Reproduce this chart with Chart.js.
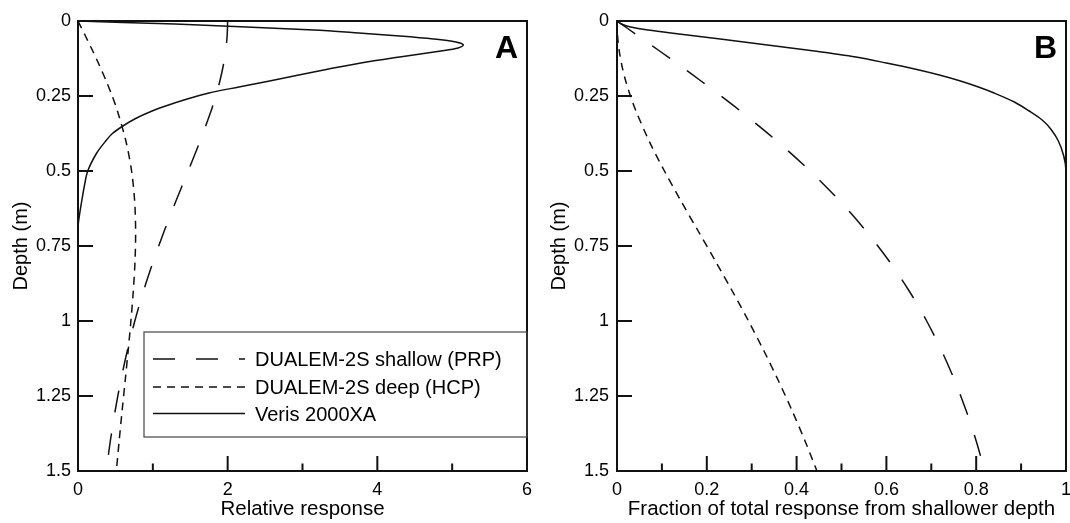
<!DOCTYPE html>
<html><head><meta charset="utf-8">
<script src="https://cdn.jsdelivr.net/npm/chart.js@4"></script>
<style>
html,body{margin:0;padding:0;background:#fff;overflow:hidden;width:1070px;height:523px;position:relative}
#ca{position:absolute;left:0;top:0}
#cb{position:absolute;left:540px;top:0}
</style></head><body>
<canvas id="ca" width="540" height="523"></canvas>
<canvas id="cb" width="539" height="523"></canvas>
<script>
// ---------- data ----------
const depthTicks = [0, 0.25, 0.5, 0.75, 1, 1.25, 1.5];
const depthTickLabels = ['0', '0.25', '0.5', '0.75', '1', '1.25', '1.5'];
const xMajorA = [0, 2, 4, 6];
const xMajorLabelsA = ['0', '2', '4', '6'];
const xMinorA = [1, 3, 5];
const xMajorB = [0, 0.2, 0.4, 0.6, 0.8, 1];
const xMajorLabelsB = ['0', '0.2', '0.4', '0.6', '0.8', '1'];
const xMinorB = [0.1, 0.3, 0.5, 0.7, 0.9];

const seriesNames = ['DUALEM-2S shallow (PRP)', 'DUALEM-2S deep (HCP)', 'Veris 2000XA'];

// depths (m) for the DUALEM curves
const depthsDualem = [0, 0.05, 0.1, 0.15, 0.2, 0.25, 0.3, 0.4, 0.5, 0.6, 0.7, 0.8, 0.9, 1.0, 1.1, 1.2, 1.3, 1.4, 1.5];
// Panel A: relative response
const prpResponse = [2.0, 1.993, 1.973, 1.94, 1.896, 1.841, 1.778, 1.632, 1.472, 1.309, 1.152, 1.007, 0.875, 0.759, 0.658, 0.571, 0.496, 0.432, 0.377];
const hcpResponse = [0, 0.0996, 0.197, 0.29, 0.377, 0.457, 0.527, 0.64, 0.716, 0.757, 0.77, 0.762, 0.739, 0.707, 0.67, 0.63, 0.589, 0.55, 0.512];
// Panel B: cumulative fraction from shallower depth
const prpFraction = [0, 0.0476, 0.0948, 0.1414, 0.1871, 0.2316, 0.2747, 0.356, 0.43, 0.4961, 0.5547, 0.606, 0.6508, 0.6897, 0.7233, 0.7526, 0.7779, 0.8, 0.819];
const hcpFraction = [0, 0.00125, 0.005, 0.0111, 0.0194, 0.0299, 0.0422, 0.0715, 0.1056, 0.1425, 0.1808, 0.2191, 0.2567, 0.2929, 0.3273, 0.3598, 0.3903, 0.4188, 0.4453];

// Veris 2000XA
const depthsVerisA = [0, 0.005, 0.01, 0.02, 0.03, 0.04, 0.05, 0.06, 0.07, 0.08, 0.09, 0.1, 0.12, 0.14, 0.16, 0.18, 0.2, 0.22, 0.24, 0.26, 0.28, 0.3, 0.325, 0.35, 0.375, 0.4, 0.44, 0.5, 0.55, 0.6, 0.65, 0.69, 1.5];
const verisResponse = [0, 0.6, 1.3, 2.25, 3.15, 3.75, 4.3, 4.75, 5.05, 5.15, 5.08, 4.85, 4.3, 3.78, 3.35, 2.95, 2.56, 2.15, 1.75, 1.46, 1.21, 0.99, 0.77, 0.6, 0.46, 0.37, 0.25, 0.13, 0.085, 0.05, 0.018, 0, 0];
const depthsVerisB = [0, 0.01, 0.02, 0.03, 0.04, 0.05, 0.06, 0.08, 0.1, 0.12, 0.14, 0.16, 0.18, 0.2, 0.22, 0.24, 0.27, 0.3, 0.33, 0.36, 0.4, 0.45, 0.5, 1.5];
const verisFraction = [0, 0.01, 0.03, 0.07, 0.12, 0.175, 0.23, 0.335, 0.44, 0.532, 0.6, 0.663, 0.718, 0.765, 0.805, 0.84, 0.885, 0.918, 0.947, 0.966, 0.983, 0.995, 1, 1];

// ---------- styling ----------
const FONT = '"Liberation Sans", Arial, Helvetica, sans-serif';
const INK = '#111';
const dashPRP = [22, 21];
const dashHCP = [8, 6];

function series(label, depths, vals, dash) {
  return {
    label: label,
    data: depths.map((d, i) => ({ x: vals[i], y: d })),
    showLine: true, pointRadius: 0, borderColor: INK, borderWidth: 1.5,
    borderDash: dash, tension: 0.3, fill: false
  };
}

const framePlugin = {
  id: 'frameTicks',
  afterDraw(chart) {
    const o = chart.options.plugins.frameTicks;
    const ctx = chart.ctx, a = chart.chartArea;
    const xs = chart.scales.x, ys = chart.scales.y;
    ctx.save();
    ctx.strokeStyle = INK;
    ctx.lineWidth = 2;
    ctx.setLineDash([]);
    ctx.strokeRect(a.left, a.top, a.right - a.left, a.bottom - a.top);
    ctx.beginPath();
    o.yMajor.forEach(v => { const y = ys.getPixelForValue(v); ctx.moveTo(a.left, y); ctx.lineTo(a.left + 15, y); });
    o.xMajor.forEach(v => { const x = xs.getPixelForValue(v); ctx.moveTo(x, a.bottom); ctx.lineTo(x, a.bottom - 15); });
    o.xMinor.forEach(v => { const x = xs.getPixelForValue(v); ctx.moveTo(x, a.bottom); ctx.lineTo(x, a.bottom - 7.5); });
    ctx.stroke();
    // panel letter
    ctx.fillStyle = '#000';
    ctx.font = 'bold 32px ' + FONT;
    ctx.textAlign = 'right';
    ctx.textBaseline = 'alphabetic';
    ctx.fillText(o.letter, a.right - 9, a.top + 37);
    // legend
    if (o.legend) {
      const L = o.legend;
      const bx = L.left, by = a.top + L.top, bw = a.right - L.left, bh = L.height;
      ctx.lineWidth = 1.2;
      ctx.strokeStyle = '#444';
      ctx.strokeRect(bx, by, bw, bh);
      chart.data.datasets.forEach((ds, i) => {
        const cy = by + L.rows[i];
        ctx.beginPath();
        ctx.strokeStyle = INK;
        ctx.lineWidth = 1.5;
        ctx.setLineDash(ds.borderDash || []);
        ctx.moveTo(L.lineX0, cy);
        ctx.lineTo(L.lineX1, cy);
        ctx.stroke();
        ctx.setLineDash([]);
        ctx.font = '20px ' + FONT;
        ctx.textAlign = 'left';
        ctx.textBaseline = 'alphabetic';
        ctx.fillStyle = '#000';
        ctx.fillText(ds.label, L.textX, cy + 7.2);
      });
    }
    ctx.restore();
  }
};

function makeChart(id, cfg) {
  return new Chart(document.getElementById(id), {
    type: 'scatter',
    data: { datasets: cfg.datasets },
    plugins: [framePlugin],
    options: {
      responsive: false, animation: false, devicePixelRatio: 1,
      layout: { padding: { left: 0, right: cfg.padRight, top: 21, bottom: 0 } },
      plugins: {
        legend: { display: false }, tooltip: { enabled: false },
        frameTicks: { yMajor: depthTicks, xMajor: cfg.xMajor, xMinor: cfg.xMinor, letter: cfg.letter, legend: cfg.legend }
      },
      scales: {
        x: {
          type: 'linear', min: cfg.xMin, max: cfg.xMax,
          afterBuildTicks: s => { s.ticks = cfg.xMajor.map(v => ({ value: v })); },
          afterFit: s => { s.height = 52; },
          ticks: {
            autoSkip: false, maxRotation: 0, padding: 8, color: '#000',
            font: { family: FONT, size: 18 },
            callback: (v, i) => cfg.xLabels[i]
          },
          grid: { display: false, drawTicks: false },
          border: { display: false },
          title: { display: true, text: cfg.xTitle, color: '#000', font: { family: FONT, size: 20.5 }, padding: { top: 0, bottom: 1.2 } }
        },
        y: {
          type: 'linear', min: 0, max: 1.5, reverse: true,
          afterBuildTicks: s => { s.ticks = depthTicks.map(v => ({ value: v })); },
          afterFit: s => { s.width = cfg.yWidth; },
          ticks: {
            autoSkip: false, padding: cfg.yPad, color: '#000',
            font: { family: FONT, size: 18 },
            callback: (v, i) => depthTickLabels[i]
          },
          grid: { display: false, drawTicks: false },
          border: { display: false },
          title: { display: true, text: 'Depth (m)', color: '#000', font: { family: FONT, size: 20 }, padding: { top: cfg.yTitlePad, bottom: 0 } }
        }
      }
    }
  });
}

makeChart('ca', {
  datasets: [
    series(seriesNames[0], depthsDualem, prpResponse, dashPRP),
    series(seriesNames[1], depthsDualem, hcpResponse, dashHCP),
    series(seriesNames[2], depthsVerisA, verisResponse, [])
  ],
  padRight: 13, yWidth: 78, yPad: 7, yTitlePad: 9,
  xMin: 0, xMax: 6, xMajor: xMajorA, xMinor: xMinorA, xLabels: xMajorLabelsA,
  xTitle: 'Relative response', letter: 'A',
  legend: { left: 144, top: 311, height: 105, rows: [27, 55, 81.5], lineX0: 153, lineX1: 245, textX: 255 }
});

makeChart('cb', {
  datasets: [
    series(seriesNames[0], depthsDualem, prpFraction, dashPRP),
    series(seriesNames[1], depthsDualem, hcpFraction, dashHCP),
    series(seriesNames[2], depthsVerisB, verisFraction, [])
  ],
  padRight: 13, yWidth: 77, yPad: 8, yTitlePad: 7,
  xMin: 0, xMax: 1, xMajor: xMajorB, xMinor: xMinorB, xLabels: xMajorLabelsB,
  xTitle: 'Fraction of total response from shallower depth', letter: 'B',
  legend: null
});
</script>
</body></html>
